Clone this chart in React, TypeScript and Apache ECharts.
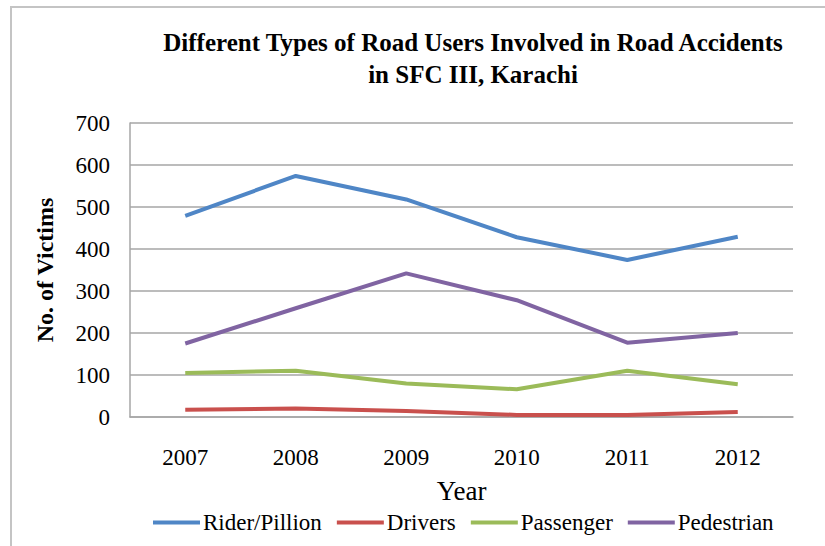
import React, { useEffect, useRef } from "react";
import * as echarts from "echarts";

const years = ["2007", "2008", "2009", "2010", "2011", "2012"];
const riderPillion = [479, 574, 518, 428, 374, 429];
const drivers = [17, 20, 14, 5, 5, 12];
const passenger = [105, 110, 80, 66, 110, 78];
const pedestrian = [175, 259, 342, 278, 177, 200];

const seriesNames = ["Rider/Pillion", "Drivers", "Passenger", "Pedestrian"];
const seriesColors = ["#4F86C6", "#C9504D", "#9BBB59", "#8064A2"];
const seriesData = [riderPillion, drivers, passenger, pedestrian];

const FONT = "'Liberation Serif', 'Times New Roman', serif";

export default function App() {
  const ref = useRef<HTMLDivElement>(null);
  useEffect(() => {
    if (!ref.current) return;
    const chart = echarts.init(ref.current, undefined, { renderer: "svg" });
    chart.setOption({
      animation: false,
      backgroundColor: "#ffffff",
      textStyle: { fontFamily: FONT, color: "#000" },
      title: {
        text: "Different Types of Road Users Involved in Road Accidents\nin SFC III, Karachi",
        left: 468,
        top: 21,
        textAlign: "center",
        textStyle: {
          fontFamily: FONT,
          fontSize: 25,
          fontWeight: "bold",
          color: "#000",
          lineHeight: 32,
        },
      },
      graphic: [
        {
          type: "rect",
          shape: { x: 11, y: 7, width: 840, height: 560 },
          style: { fill: "none", stroke: "#c4c4c4", lineWidth: 2 },
          silent: true,
        },
      ],
      legend: {
        data: seriesNames,
        left: 148,
        top: 506,
        icon: "rect",
        itemWidth: 47,
        itemHeight: 4,
        itemGap: 15,
        textStyle: { fontFamily: FONT, fontSize: 23, color: "#000", padding: [0, 0, 0, -2] },
      },
      grid: { left: 130, right: 32, top: 123, bottom: 129, containLabel: false },
      xAxis: {
        type: "category",
        data: years,
        boundaryGap: true,
        name: "Year",
        nameLocation: "middle",
        nameGap: 60,
        nameTextStyle: { fontFamily: FONT, fontSize: 27, color: "#000" },
        axisLine: { show: true, lineStyle: { color: "#a6a6a6", width: 1.5 } },
        axisTick: { show: false },
        axisLabel: { fontFamily: FONT, fontSize: 23, color: "#000", margin: 29 },
      },
      yAxis: {
        type: "value",
        min: 0,
        max: 700,
        interval: 100,
        name: "No. of Victims",
        nameLocation: "middle",
        nameGap: 73,
        nameTextStyle: { fontFamily: FONT, fontSize: 24, fontWeight: "bold", color: "#000" },
        axisLine: { show: true, lineStyle: { color: "#a6a6a6", width: 1.5 } },
        axisTick: { show: false },
        axisLabel: { fontFamily: FONT, fontSize: 23, color: "#000", margin: 20 },
        splitLine: { show: true, lineStyle: { color: "#a6a6a6", width: 1.5 } },
      },
      series: seriesNames.map((name, i) => ({
        name,
        type: "line",
        data: seriesData[i],
        symbol: "none",
        color: seriesColors[i],
        lineStyle: { width: 4, color: seriesColors[i] },
      })),
    });
    return () => chart.dispose();
  }, []);
  return (
    <div
      ref={ref}
      style={{ position: "fixed", left: 0, top: 0, width: 825, height: 546 }}
    />
  );
}
